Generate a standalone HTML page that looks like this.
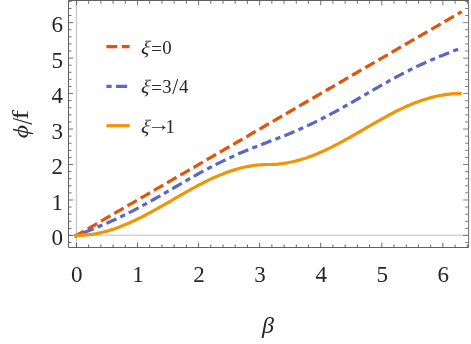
<!DOCTYPE html>
<html><head><meta charset="utf-8"><title>plot</title>
<style>
html,body{margin:0;padding:0;background:#fff;}
svg{display:block;will-change:transform;}
text{font-family:"Liberation Serif",serif;fill:#262626;}
</style></head><body>
<svg width="471" height="344" viewBox="0 0 471 344">
<rect width="471" height="344" fill="#fff"/>
<!-- axes grid lines -->
<line x1="76.50" y1="0.5" x2="76.50" y2="247.5" stroke="#c6c6c6" stroke-width="1.3"/>
<line x1="68.5" y1="235.20" x2="468.5" y2="235.20" stroke="#d4d4d4" stroke-width="1.4"/>
<!-- curves -->
<g fill="none" stroke-width="3.2" stroke-linejoin="round">
<path d="M74.6,236.5 77.0,235.1 79.5,233.7 81.9,232.3 84.3,230.9 86.7,229.5 89.1,228.1 91.6,226.7 94.0,225.3 96.4,223.9 98.8,222.5 101.2,221.1 103.6,219.7 106.1,218.2 108.5,216.8 110.9,215.4 113.3,214.0 115.7,212.6 118.2,211.2 120.6,209.8 123.0,208.4 125.4,207.0 127.8,205.6 130.3,204.2 132.7,202.8 135.1,201.4 137.5,200.0 139.9,198.6 142.4,197.2 144.8,195.8 147.2,194.4 149.6,193.0 152.0,191.6 154.4,190.1 156.9,188.7 159.3,187.3 161.7,185.9 164.1,184.5 166.5,183.1 169.0,181.7 171.4,180.3 173.8,178.9 176.2,177.5 178.6,176.1 181.1,174.7 183.5,173.3 185.9,171.9 188.3,170.5 190.7,169.1 193.2,167.7 195.6,166.3 198.0,164.9 200.4,163.5 202.8,162.0 205.3,160.6 207.7,159.2 210.1,157.8 212.5,156.4 214.9,155.0 217.3,153.6 219.8,152.2 222.2,150.8 224.6,149.4 227.0,148.0 229.4,146.6 231.9,145.2 234.3,143.8 236.7,142.4 239.1,141.0 241.5,139.6 244.0,138.2 246.4,136.8 248.8,135.4 251.2,133.9 253.6,132.5 256.1,131.1 258.5,129.7 260.9,128.3 263.3,126.9 265.7,125.5 268.1,124.1 270.6,122.7 273.0,121.3 275.4,119.9 277.8,118.5 280.2,117.1 282.7,115.7 285.1,114.3 287.5,112.9 289.9,111.5 292.3,110.1 294.8,108.7 297.2,107.2 299.6,105.8 302.0,104.4 304.4,103.0 306.9,101.6 309.3,100.2 311.7,98.8 314.1,97.4 316.5,96.0 319.0,94.6 321.4,93.2 323.8,91.8 326.2,90.4 328.6,89.0 331.0,87.6 333.5,86.2 335.9,84.8 338.3,83.4 340.7,82.0 343.1,80.6 345.6,79.1 348.0,77.7 350.4,76.3 352.8,74.9 355.2,73.5 357.7,72.1 360.1,70.7 362.5,69.3 364.9,67.9 367.3,66.5 369.8,65.1 372.2,63.7 374.6,62.3 377.0,60.9 379.4,59.5 381.8,58.1 384.3,56.7 386.7,55.3 389.1,53.9 391.5,52.5 393.9,51.0 396.4,49.6 398.8,48.2 401.2,46.8 403.6,45.4 406.0,44.0 408.5,42.6 410.9,41.2 413.3,39.8 415.7,38.4 418.1,37.0 420.6,35.6 423.0,34.2 425.4,32.8 427.8,31.4 430.2,30.0 432.6,28.6 435.1,27.2 437.5,25.8 439.9,24.4 442.3,22.9 444.7,21.5 447.2,20.1 449.6,18.7 452.0,17.3 454.4,15.9 456.8,14.5 459.3,13.1 461.7,11.7" stroke="#e1550a" stroke-dasharray="10.8 4.48" stroke-dashoffset="0"/>
<path d="M74.6,236.2 77.0,235.2 79.5,234.3 81.9,233.4 84.3,232.4 86.7,231.5 89.1,230.5 91.6,229.6 94.0,228.6 96.4,227.6 98.8,226.6 101.2,225.6 103.6,224.6 106.1,223.5 108.5,222.5 110.9,221.4 113.3,220.3 115.7,219.2 118.2,218.1 120.6,216.9 123.0,215.7 125.4,214.6 127.8,213.3 130.3,212.1 132.7,210.9 135.1,209.6 137.5,208.3 139.9,207.0 142.4,205.7 144.8,204.4 147.2,203.1 149.6,201.7 152.0,200.4 154.4,199.0 156.9,197.6 159.3,196.3 161.7,194.9 164.1,193.5 166.5,192.1 169.0,190.7 171.4,189.3 173.8,187.9 176.2,186.5 178.6,185.1 181.1,183.7 183.5,182.3 185.9,180.9 188.3,179.5 190.7,178.1 193.2,176.7 195.6,175.4 198.0,174.0 200.4,172.7 202.8,171.4 205.3,170.1 207.7,168.8 210.1,167.5 212.5,166.3 214.9,165.0 217.3,163.8 219.8,162.6 222.2,161.4 224.6,160.3 227.0,159.1 229.4,158.0 231.9,156.9 234.3,155.8 236.7,154.7 239.1,153.6 241.5,152.6 244.0,151.6 246.4,150.6 248.8,149.6 251.2,148.6 253.6,147.6 256.1,146.7 258.5,145.7 260.9,144.8 263.3,143.8 265.7,142.9 268.1,142.0 270.6,141.0 273.0,140.1 275.4,139.2 277.8,138.2 280.2,137.3 282.7,136.3 285.1,135.4 287.5,134.4 289.9,133.4 292.3,132.4 294.8,131.4 297.2,130.3 299.6,129.3 302.0,128.2 304.4,127.1 306.9,126.0 309.3,124.9 311.7,123.7 314.1,122.6 316.5,121.4 319.0,120.2 321.4,119.0 323.8,117.7 326.2,116.5 328.6,115.2 331.0,113.9 333.5,112.6 335.9,111.3 338.3,110.0 340.7,108.6 343.1,107.3 345.6,105.9 348.0,104.5 350.4,103.1 352.8,101.8 355.2,100.4 357.7,99.0 360.1,97.6 362.5,96.2 364.9,94.8 367.3,93.4 369.8,91.9 372.2,90.5 374.6,89.2 377.0,87.8 379.4,86.4 381.8,85.0 384.3,83.6 386.7,82.3 389.1,80.9 391.5,79.6 393.9,78.3 396.4,77.0 398.8,75.7 401.2,74.4 403.6,73.1 406.0,71.9 408.5,70.7 410.9,69.4 413.3,68.3 415.7,67.1 418.1,65.9 420.6,64.8 423.0,63.7 425.4,62.6 427.8,61.5 430.2,60.4 432.6,59.4 435.1,58.4 437.5,57.3 439.9,56.3 442.3,55.4 444.7,54.4 447.2,53.4 449.6,52.5 452.0,51.5 454.4,50.6 456.8,49.7 459.3,48.7 461.7,47.8" stroke="#5968c2" stroke-dasharray="5.2 4.3 11 4.34" stroke-dashoffset="0.1"/>
<path d="M74.6,235.4 77.0,235.4 79.5,235.4 81.9,235.3 84.3,235.2 86.7,234.9 89.1,234.7 91.6,234.4 94.0,234.0 96.4,233.6 98.8,233.1 101.2,232.6 103.6,232.0 106.1,231.4 108.5,230.7 110.9,229.9 113.3,229.2 115.7,228.4 118.2,227.5 120.6,226.6 123.0,225.6 125.4,224.6 127.8,223.6 130.3,222.5 132.7,221.4 135.1,220.3 137.5,219.1 139.9,217.9 142.4,216.7 144.8,215.5 147.2,214.2 149.6,212.9 152.0,211.6 154.4,210.2 156.9,208.9 159.3,207.5 161.7,206.1 164.1,204.8 166.5,203.4 169.0,202.0 171.4,200.6 173.8,199.2 176.2,197.7 178.6,196.3 181.1,195.0 183.5,193.6 185.9,192.2 188.3,190.8 190.7,189.5 193.2,188.1 195.6,186.8 198.0,185.5 200.4,184.3 202.8,183.0 205.3,181.8 207.7,180.6 210.1,179.4 212.5,178.3 214.9,177.2 217.3,176.2 219.8,175.1 222.2,174.2 224.6,173.2 227.0,172.3 229.4,171.5 231.9,170.6 234.3,169.9 236.7,169.2 239.1,168.5 241.5,167.9 244.0,167.3 246.4,166.8 248.8,166.3 251.2,165.9 253.6,165.5 256.1,165.2 258.5,165.0 260.9,164.8 263.3,164.6 265.7,164.5 268.1,164.5 270.6,164.5 273.0,164.4 275.4,164.3 277.8,164.1 280.2,163.8 282.7,163.5 285.1,163.2 287.5,162.8 289.9,162.3 292.3,161.8 294.8,161.2 297.2,160.6 299.6,160.0 302.0,159.2 304.4,158.5 306.9,157.7 309.3,156.8 311.7,155.9 314.1,155.0 316.5,154.0 319.0,153.0 321.4,151.9 323.8,150.9 326.2,149.7 328.6,148.6 331.0,147.4 333.5,146.2 335.9,144.9 338.3,143.7 340.7,142.4 343.1,141.1 345.6,139.7 348.0,138.4 350.4,137.0 352.8,135.6 355.2,134.3 357.7,132.9 360.1,131.5 362.5,130.1 364.9,128.7 367.3,127.2 369.8,125.8 372.2,124.4 374.6,123.1 377.0,121.7 379.4,120.3 381.8,119.0 384.3,117.6 386.7,116.3 389.1,115.0 391.5,113.7 393.9,112.5 396.4,111.2 398.8,110.0 401.2,108.9 403.6,107.7 406.0,106.6 408.5,105.6 410.9,104.5 413.3,103.5 415.7,102.6 418.1,101.7 420.6,100.8 423.0,100.0 425.4,99.2 427.8,98.4 430.2,97.8 432.6,97.1 435.1,96.5 437.5,96.0 439.9,95.5 442.3,95.1 444.7,94.7 447.2,94.4 449.6,94.1 452.0,93.9 454.4,93.7 456.8,93.6 459.3,93.6 461.7,93.6" stroke="#f09508"/>
</g>
<!-- frame -->
<path d="M468.5,0.5 H68.5 V247.5 H468.5" fill="none" stroke="#585858" stroke-width="0.95" stroke-linecap="square"/>
<line x1="468.55" y1="0.5" x2="468.55" y2="247.5" stroke="#7a7a7a" stroke-width="1.1"/>
<g fill="none" stroke-width="0.85">
<path stroke="#484848" d="M76.45,247.5v-4.8M88.66,247.5v-3.0M100.88,247.5v-3.0M113.09,247.5v-3.0M125.31,247.5v-3.0M137.52,247.5v-4.8M149.73,247.5v-3.0M161.95,247.5v-3.0M174.16,247.5v-3.0M186.38,247.5v-3.0M198.59,247.5v-4.8M210.80,247.5v-3.0M223.02,247.5v-3.0M235.23,247.5v-3.0M247.45,247.5v-3.0M259.66,247.5v-4.8M271.87,247.5v-3.0M284.09,247.5v-3.0M296.30,247.5v-3.0M308.52,247.5v-3.0M320.73,247.5v-4.8M332.94,247.5v-3.0M345.16,247.5v-3.0M357.37,247.5v-3.0M369.59,247.5v-3.0M381.80,247.5v-4.8M394.01,247.5v-3.0M406.23,247.5v-3.0M418.44,247.5v-3.0M430.66,247.5v-3.0M442.87,247.5v-4.8M455.08,247.5v-3.0M467.30,247.5v-3.0"/>
<path stroke="#585858" d="M76.45,0.5v4.8M88.66,0.5v3.3M100.88,0.5v3.3M113.09,0.5v3.3M125.31,0.5v3.3M137.52,0.5v4.8M149.73,0.5v3.3M161.95,0.5v3.3M174.16,0.5v3.3M186.38,0.5v3.3M198.59,0.5v4.8M210.80,0.5v3.3M223.02,0.5v3.3M235.23,0.5v3.3M247.45,0.5v3.3M259.66,0.5v4.8M271.87,0.5v3.3M284.09,0.5v3.3M296.30,0.5v3.3M308.52,0.5v3.3M320.73,0.5v4.8M332.94,0.5v3.3M345.16,0.5v3.3M357.37,0.5v3.3M369.59,0.5v3.3M381.80,0.5v4.8M394.01,0.5v3.3M406.23,0.5v3.3M418.44,0.5v3.3M430.66,0.5v3.3M442.87,0.5v4.8M455.08,0.5v3.3M467.30,0.5v3.3"/>
<path stroke="#555" d="M68.5,242.54h3.0M68.5,235.45h4.6M68.5,228.36h3.0M68.5,221.26h3.0M68.5,214.17h3.0M68.5,207.07h3.0M68.5,199.98h4.6M68.5,192.89h3.0M68.5,185.79h3.0M68.5,178.70h3.0M68.5,171.60h3.0M68.5,164.51h4.6M68.5,157.42h3.0M68.5,150.32h3.0M68.5,143.23h3.0M68.5,136.13h3.0M68.5,129.04h4.6M68.5,121.95h3.0M68.5,114.85h3.0M68.5,107.76h3.0M68.5,100.66h3.0M68.5,93.57h4.6M68.5,86.48h3.0M68.5,79.38h3.0M68.5,72.29h3.0M68.5,65.19h3.0M68.5,58.10h4.6M68.5,51.01h3.0M68.5,43.91h3.0M68.5,36.82h3.0M68.5,29.72h3.0M68.5,22.63h4.6M68.5,15.54h3.0M68.5,8.44h3.0M68.5,1.35h3.0"/>
<path stroke="#6c6c6c" d="M468.5,242.54h-3.5M468.5,235.45h-5.4M468.5,228.36h-3.5M468.5,221.26h-3.5M468.5,214.17h-3.5M468.5,207.07h-3.5M468.5,199.98h-5.4M468.5,192.89h-3.5M468.5,185.79h-3.5M468.5,178.70h-3.5M468.5,171.60h-3.5M468.5,164.51h-5.4M468.5,157.42h-3.5M468.5,150.32h-3.5M468.5,143.23h-3.5M468.5,136.13h-3.5M468.5,129.04h-5.4M468.5,121.95h-3.5M468.5,114.85h-3.5M468.5,107.76h-3.5M468.5,100.66h-3.5M468.5,93.57h-5.4M468.5,86.48h-3.5M468.5,79.38h-3.5M468.5,72.29h-3.5M468.5,65.19h-3.5M468.5,58.10h-5.4M468.5,51.01h-3.5M468.5,43.91h-3.5M468.5,36.82h-3.5M468.5,29.72h-3.5M468.5,22.63h-5.4M468.5,15.54h-3.5M468.5,8.44h-3.5M468.5,1.35h-3.5"/>
</g>
<g font-size="24">
<text transform="translate(76.85,281.7) scale(0.96,1)" text-anchor="middle">0</text><text transform="translate(137.92,281.7) scale(0.96,1)" text-anchor="middle">1</text><text transform="translate(198.99,281.7) scale(0.96,1)" text-anchor="middle">2</text><text transform="translate(260.06,281.7) scale(0.96,1)" text-anchor="middle">3</text><text transform="translate(321.13,281.7) scale(0.96,1)" text-anchor="middle">4</text><text transform="translate(382.20,281.7) scale(0.96,1)" text-anchor="middle">5</text><text transform="translate(443.27,281.7) scale(0.96,1)" text-anchor="middle">6</text>
<text transform="translate(62.9,245.25) scale(0.96,1)" text-anchor="end">0</text><text transform="translate(62.9,209.78) scale(0.96,1)" text-anchor="end">1</text><text transform="translate(62.9,174.31) scale(0.96,1)" text-anchor="end">2</text><text transform="translate(62.9,138.84) scale(0.96,1)" text-anchor="end">3</text><text transform="translate(62.9,103.37) scale(0.96,1)" text-anchor="end">4</text><text transform="translate(62.9,67.90) scale(0.96,1)" text-anchor="end">5</text><text transform="translate(62.9,32.43) scale(0.96,1)" text-anchor="end">6</text>
</g>
<!-- legend -->
<g fill="none" stroke-width="3.25">
<path d="M106.4,46.7 H129.6" stroke="#e1550a" stroke-dasharray="10.9 4.5"/>
<path d="M106.4,86.4 H129.6" stroke="#5968c2" stroke-dasharray="5.2 4.4 11.1 4.4"/>
<path d="M106.4,125.7 H129.7" stroke="#f09508"/>
</g>
<g font-size="18.8">
<text transform="translate(140.6,53.8) skewX(-8) scale(1.1,1.02)" font-style="italic">ξ</text><text y="53.8"><tspan x="151.2" dy="1">=</tspan><tspan x="162.3" dy="-1">0</tspan></text>
<text transform="translate(140.6,93.2) skewX(-8) scale(1.1,1.02)" font-style="italic">ξ</text><text y="93.2"><tspan x="151.2" dy="1">=</tspan><tspan x="162.3" dy="-1">3</tspan></text><text transform="translate(172.3,94.4) scale(1.15,1.28)">/</text><text x="178.9" y="93.2">4</text>
<text transform="translate(140.6,132.6) skewX(-8) scale(1.1,1.02)" font-style="italic">ξ</text><text transform="translate(146.9,131.0) scale(1.25,1)">→</text><text x="165.6" y="132.6">1</text>
</g>
<text font-size="24" font-style="italic" x="268" y="333" text-anchor="middle">β</text>
<g transform="translate(28.2,0) rotate(-90)" font-size="24.5">
<text transform="translate(-138.2,0) scale(1.05,0.87)" font-style="italic">ϕ</text>
<text transform="translate(-124.7,3.7) scale(1,1.19)">/</text>
<text transform="translate(-119.7,0) scale(1.2,0.9)">f</text>
</g>
</svg>
</body></html>
